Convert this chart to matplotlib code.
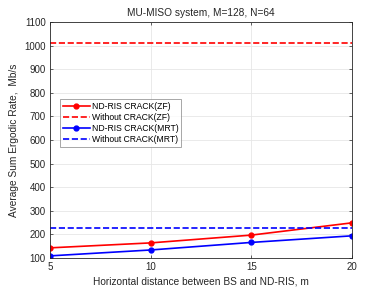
import numpy as np
import matplotlib
matplotlib.use('Agg')
import matplotlib.pyplot as plt

plt.rcParams['font.family'] = ['Liberation Sans', 'DejaVu Sans']

# data
dist = [5, 10, 15, 20]
zf_crack = [143, 164, 197, 249]
zf_nocrack = [1013, 1013, 1013, 1013]
mrt_crack = [109, 134, 166, 194]
mrt_nocrack = [229, 229, 229, 229]

fig = plt.figure(figsize=(3.88, 2.91), dpi=100)
ax = fig.add_axes([50/388, 1 - 258/291, 302/388, 236/291])

ax.plot(dist, zf_crack, '-o', color='r', lw=1.2, ms=3.5, label='ND-RIS CRACK(ZF)')
ax.plot(dist, zf_nocrack, '--', color='r', lw=1.2, label='Without CRACK(ZF)')
ax.plot(dist, mrt_crack, '-o', color='b', lw=1.2, ms=3.5, label='ND-RIS CRACK(MRT)')
ax.plot(dist, mrt_nocrack, '--', color='b', lw=1.2, label='Without CRACK(MRT)')

ax.set_xlim(5, 20)
ax.set_ylim(100, 1100)
ax.set_xticks([5, 10, 15, 20])
ax.set_yticks(np.arange(100, 1101, 100))
ax.grid(True, color='#e6e6e6', lw=0.6)
ax.set_axisbelow(True)
ax.tick_params(direction='in', labelsize=7, length=2.5, width=0.5, colors='#262626',
               top=True, right=True, pad=3)
for s in ax.spines.values():
    s.set_color('#262626')
    s.set_linewidth(0.6)

ax.set_title('MU-MISO system, M=128, N=64', fontsize=7.3, pad=4, color='#262626')
ax.set_xlabel('Horizontal distance between BS and ND-RIS, m', fontsize=7.3, color='#262626', labelpad=3)
ax.set_ylabel('Average Sum Ergodic Rate,  Mb/s', fontsize=7.3, color='#262626', labelpad=4)

leg = ax.legend(loc='upper left', bbox_to_anchor=(10/302, 159/236), fontsize=6.2,
                frameon=True, fancybox=False, handlelength=3.2, handletextpad=0.2,
                borderpad=0.3, labelspacing=0.25, borderaxespad=0)
leg.get_frame().set_edgecolor('#7f7f7f')
leg.get_frame().set_linewidth(0.6)

fig.savefig('out.png', dpi=100)
